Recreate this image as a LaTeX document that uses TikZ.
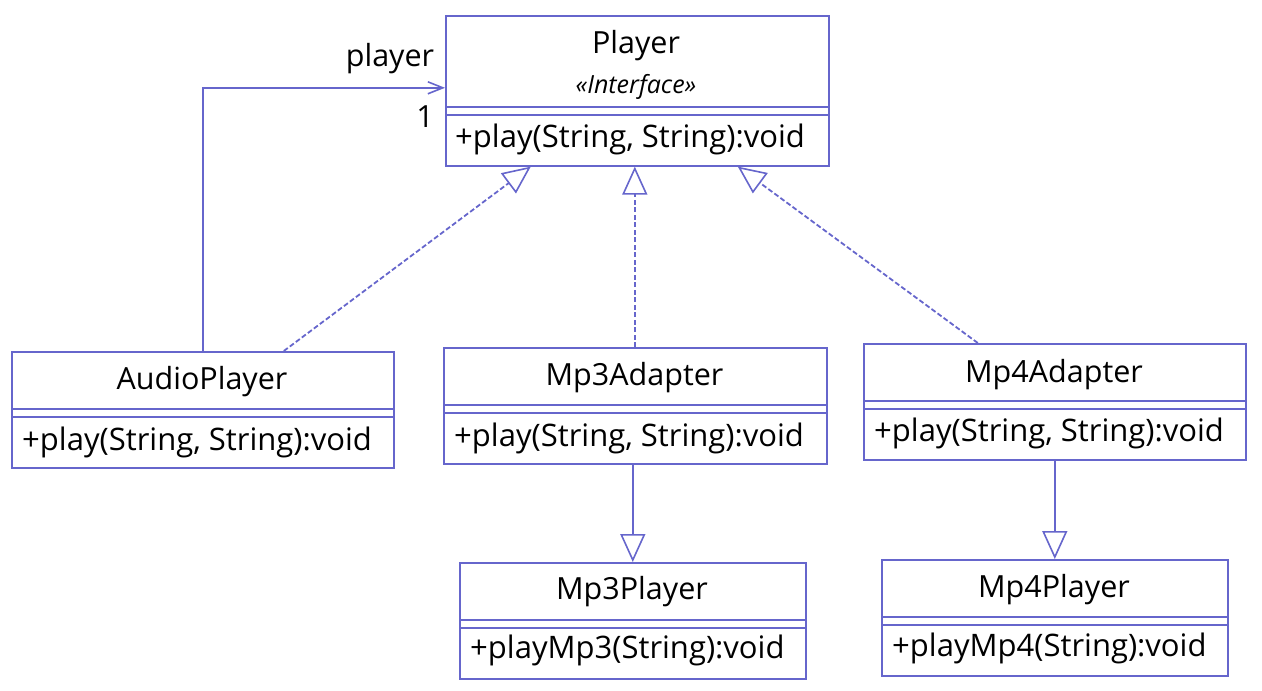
\documentclass[tikz,border=0pt]{standalone}
\usepackage{fontspec}
\setmainfont{Open Sans}
\usetikzlibrary{arrows.meta,calc}
\definecolor{umlblue}{RGB}{102,102,204}
\tikzset{
  cls/.style={draw=umlblue, line width=1.6pt, rectangle, inner sep=0pt, anchor=north west},
  divider/.style={draw=umlblue, line width=1.3pt},
  cname/.style={font=\fontsize{30.5}{34}\selectfont, inner sep=0pt, text=black, anchor=base},
  meth/.style={font=\fontsize{31}{34}\selectfont, inner sep=0pt, anchor=base west, text=black},
  stereo/.style={font=\fontsize{25}{28}\selectfont\itshape, inner sep=0pt, anchor=base},
  lbl/.style={font=\fontsize{30.5}{34}\selectfont, inner sep=0pt, anchor=base},
  assoc/.style={draw=umlblue, line width=1.6pt, -{Straight Barb[length=15pt,width=12pt,line width=1.6pt]}},
  real/.style={draw=umlblue, line width=1.8pt, dash pattern=on 5pt off 2.5pt, -{Triangle[open,length=28pt,width=25pt,fill=white,line width=1.6pt]}},
  gen/.style={draw=umlblue, line width=1.6pt, -{Triangle[open,length=28pt,width=25pt,fill=white,line width=1.6pt]}}
}
\begin{document}
\begin{tikzpicture}[x=1pt,y=-1pt]
\useasboundingbox (0,0) rectangle (1262,691);
% Player
\node[cls, minimum width=383pt, minimum height=150pt] (player) at (445,15) {};
\draw[divider] (player.west |- 0,107) -- (player.east |- 0,107);
\draw[divider] (player.west |- 0,115) -- (player.east |- 0,115);
\node[cname] (playerT) at (636,53) {Player};
\node[stereo] (playerS) at (636,93) {«Interface»};
\node[meth] (playerM) at (455,147) {+play(String, String):void};
% AudioPlayer
\node[cls, minimum width=382pt, minimum height=116pt] (audio) at (11,351) {};
\draw[divider] (audio.west |- 0,409) -- (audio.east |- 0,409);
\draw[divider] (audio.west |- 0,417) -- (audio.east |- 0,417);
\node[cname] (audioT) at (202,389) {AudioPlayer};
\node[meth] (audioM) at (22,450) {+play(String, String):void};
% Mp3Adapter
\node[cls, minimum width=383pt, minimum height=116pt] (mp3a) at (443,347) {};
\draw[divider] (mp3a.west |- 0,405) -- (mp3a.east |- 0,405);
\draw[divider] (mp3a.west |- 0,413) -- (mp3a.east |- 0,413);
\node[cname] (mp3aT) at (634.5,385) {Mp3Adapter};
\node[meth] (mp3aM) at (454,446) {+play(String, String):void};
% Mp4Adapter
\node[cls, minimum width=382pt, minimum height=116pt] (mp4a) at (863,343) {};
\draw[divider] (mp4a.west |- 0,401) -- (mp4a.east |- 0,401);
\draw[divider] (mp4a.west |- 0,409) -- (mp4a.east |- 0,409);
\node[cname] (mp4aT) at (1054,382) {Mp4Adapter};
\node[meth] (mp4aM) at (874,441) {+play(String, String):void};
% Mp3Player
\node[cls, minimum width=346pt, minimum height=116pt] (mp3p) at (459,562) {};
\draw[divider] (mp3p.west |- 0,620) -- (mp3p.east |- 0,620);
\draw[divider] (mp3p.west |- 0,628) -- (mp3p.east |- 0,628);
\node[cname] (mp3pT) at (632,599) {Mp3Player};
\node[meth] (mp3pM) at (470,658) {+playMp3(String):void};
% Mp4Player
\node[cls, minimum width=346pt, minimum height=116pt] (mp4p) at (881,559) {};
\draw[divider] (mp4p.west |- 0,617) -- (mp4p.east |- 0,617);
\draw[divider] (mp4p.west |- 0,625) -- (mp4p.east |- 0,625);
\node[cname] (mp4pT) at (1054,597) {Mp4Player};
\node[meth] (mp4pM) at (892,656) {+playMp4(String):void};
% connectors
\draw[assoc] (audio.north) |- ([yshift=3pt]player.west);
\node[lbl] (roleL) at (390,66) {player};
\node[lbl] (multL) at (425,127) {1};
\draw[real] ([xshift=81pt]audio.north) -- ([xshift=-106.5pt]player.south);
\draw[real] ([xshift=-0.5pt]mp3a.north) -- ([xshift=-0.5pt]player.south -| mp3a.north);
\draw[real] ([xshift=-77pt]mp4a.north) -- ([xshift=100.5pt]player.south);
\draw[gen] (mp3a.south -| mp3p.north) -- (mp3p.north);
\draw[gen] (mp4a.south -| mp4p.north) -- (mp4p.north);
\end{tikzpicture}
\end{document}
